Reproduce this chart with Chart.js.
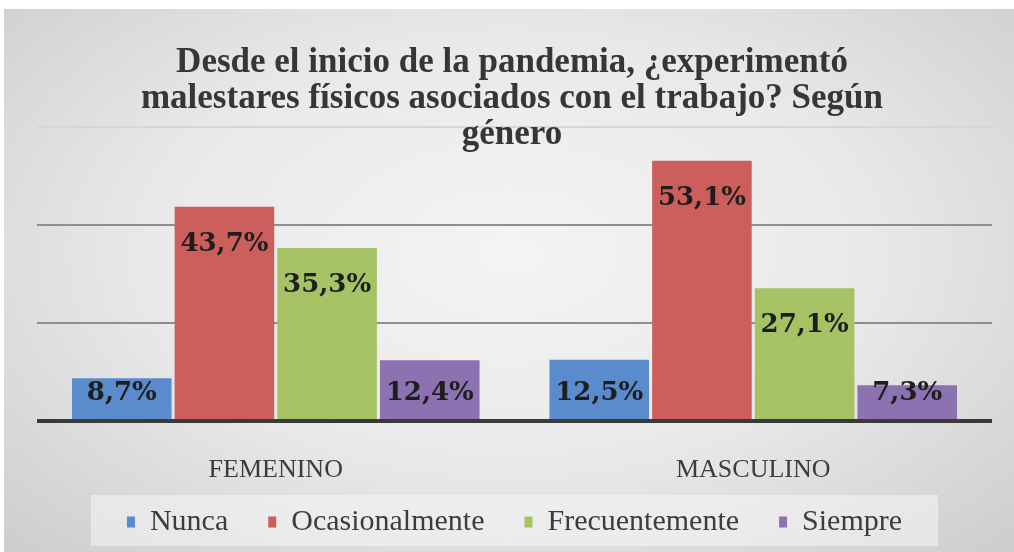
<!DOCTYPE html>
<html>
<head>
<meta charset="utf-8">
<script src="https://cdn.jsdelivr.net/npm/chart.js@4.4.0/dist/chart.umd.min.js"></script>
<style>
  html, body { margin: 0; padding: 0; background: #fff; }
  #wrap {
    position: absolute; left: 4px; top: 9px; width: 1010px; height: 543px;
    background: radial-gradient(ellipse at 50% 45%, #f4f4f4 0%, #e9e9e9 50%, #cdcdcd 100%);
  }
</style>
</head>
<body>
<div id="wrap"><canvas id="chart"></canvas></div>
<script>
const categories = ['FEMENINO', 'MASCULINO'];
const nunca = [8.7, 12.5];
const ocasionalmente = [43.7, 53.1];
const frecuentemente = [35.3, 27.1];
const siempre = [12.4, 7.3];
const seriesNames = ['Nunca', 'Ocasionalmente', 'Frecuentemente', 'Siempre'];
const seriesColors = ['#5a8bcc', '#cc5f5b', '#a5c365', '#8c72b0'];
const titleLines = [
  'Desde el inicio de la pandemia, ¿experimentó',
  'malestares físicos asociados con el trabajo? Según',
  'género'
];
const yMax = 60;
const yStep = 20;

const legendFontSize = 30;
const legendPadding = 40;
const legendCenterY = 513;

// label written near the top of each bar, like excel's "inside end"
const barLabels = {
  id: 'barLabels',
  afterDatasetsDraw(chart) {
    const ctx = chart.ctx;
    ctx.save();
    ctx.font = 'bold 26px "DejaVu Serif"';
    ctx.fillStyle = '#1e1e1e';
    ctx.textAlign = 'center';
    ctx.textBaseline = 'middle';
    chart.data.datasets.forEach((ds, i) => {
      chart.getDatasetMeta(i).data.forEach((bar, j) => {
        const y = Math.min(bar.y + 37, bar.base - 26);
        ctx.fillText(ds.data[j].toFixed(1).replace('.', ',') + '%', bar.x, y);
      });
    });
    ctx.restore();
  }
};

// chart title sits over the top gridline, so it is drawn by hand
const titleText = {
  id: 'titleText',
  afterDraw(chart) {
    const ctx = chart.ctx;
    ctx.save();
    ctx.font = 'bold 35px "Liberation Serif"';
    ctx.fillStyle = '#363636';
    ctx.textAlign = 'center';
    ctx.textBaseline = 'middle';
    titleLines.forEach((line, i) => {
      ctx.fillText(line, 508, 54 + i * 36);
    });
    ctx.restore();
  }
};

// legend needs wide gaps between items but little height: pull it up under the axis labels
const legendShift = {
  id: 'legendShift',
  afterLayout(chart) {
    const lg = chart.legend;
    const shift = lg.top + legendPadding + legendFontSize / 2 - legendCenterY;
    lg.top -= shift;
    lg.bottom -= shift;
  }
};

// lighter box behind the legend
const legendBox = {
  id: 'legendBox',
  beforeDraw(chart) {
    const boxes = chart.legend.legendHitBoxes;
    if (!boxes || !boxes.length) return;
    const first = boxes[0];
    const last = boxes[boxes.length - 1];
    const ctx = chart.ctx;
    ctx.save();
    ctx.fillStyle = 'rgba(246,246,246,0.55)';
    ctx.fillRect(first.left - 36, legendCenterY - 27, last.left + last.width - first.left + 72, 51);
    ctx.restore();
  }
};

const datasets = [nunca, ocasionalmente, frecuentemente, siempre].map((values, i) => ({
  label: seriesNames[i],
  data: values,
  backgroundColor: seriesColors[i],
  borderWidth: 0,
  categoryPercentage: 0.86,
  barPercentage: 0.97
}));

new Chart(document.getElementById('chart'), {
  type: 'bar',
  data: { labels: categories, datasets: datasets },
  plugins: [legendShift, legendBox, barLabels, titleText],
  options: {
    responsive: true,
    maintainAspectRatio: false,
    animation: false,
    layout: { padding: { left: 33, right: 22, top: 118, bottom: -13 } },
    plugins: {
      title: { display: false },
      tooltip: { enabled: false },
      legend: {
        position: 'bottom',
        labels: {
          boxWidth: 8,
          boxHeight: 11,
          padding: legendPadding,
          color: '#3c3c3c',
          font: { family: '"Liberation Serif"', size: legendFontSize }
        }
      }
    },
    scales: {
      x: {
        grid: { display: false },
        border: { display: false },
        ticks: {
          padding: 26,
          color: '#3c3c3c',
          font: { family: '"Liberation Serif"', size: 26 }
        },
        afterFit: (scale) => { scale.height = 64; }
      },
      y: {
        min: 0,
        max: yMax,
        border: { display: false },
        ticks: { display: false, stepSize: yStep },
        grid: {
          drawTicks: false,
          color: (c) => (c.tick.value === 0 ? '#3a3a3a' : c.tick.value === yMax ? '#d6d6d6' : '#8e8e8e'),
          lineWidth: (c) => (c.tick.value === 0 ? 4 : 2)
        }
      }
    }
  }
});
</script>
</body>
</html>
